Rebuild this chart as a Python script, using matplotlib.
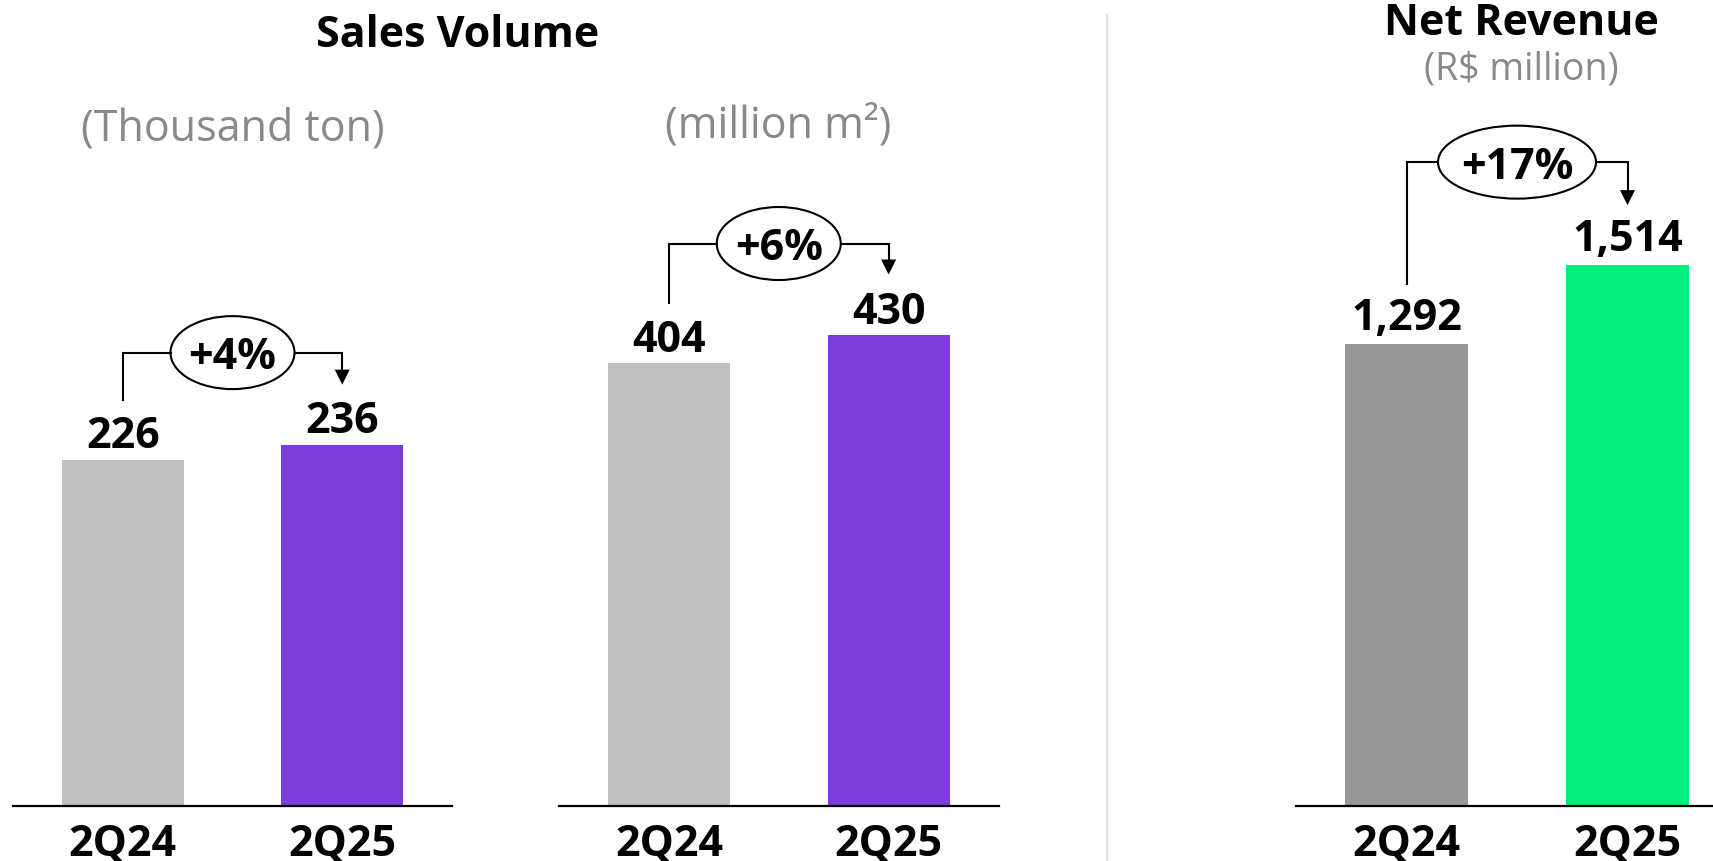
import matplotlib.pyplot as plt
from matplotlib.patches import Ellipse, Polygon
from matplotlib.lines import Line2D
from matplotlib.transforms import IdentityTransform

plt.rcParams['font.family'] = ['Open Sans', 'DejaVu Sans']

# quarterly figures
periods = ['2Q24', '2Q25']
volume_ton = [226, 236]
volume_m2 = [404, 430]
net_revenue = [1292, 1514]
growth = ['+4%', '+6%', '+17%']
units = ['(Thousand ton)', '(million m²)', '(R$ million)']

W, H = 1713, 862
BASE = 807  # baseline of the bars, pixels from the top

# layout of each panel in pixels
panels = [
    dict(values=volume_ton, colors=['#BFBFBF', '#7E3CD8'], left=13, right=452,
         ymax=527, gap=12.5, rise=92, ell_w=124),
    dict(values=volume_m2, colors=['#BFBFBF', '#7E3CD8'], left=559, right=998.5,
         ymax=736, gap=12, rise=91, ell_w=124),
    dict(values=net_revenue, colors=['#979797', '#00F080'], left=1296, right=1738,
         ymax=2259, gap=15.5, rise=103, ell_w=158),
]

fig = plt.figure(figsize=(W / 100, H / 100), dpi=100)
ident = IdentityTransform()


def px_text(x, y_top, s, **kw):
    fig.text(x, H - y_top, s, transform=ident, ha='center', va='baseline', **kw)


axes = []
for p in panels:
    ax = fig.add_axes([p['left'] / W, (H - BASE) / H, (p['right'] - p['left']) / W, BASE / H])
    ax.bar([0, 1], p['values'], width=0.555, color=p['colors'], zorder=2)
    ax.set_xlim(-0.5, 1.5)
    ax.set_ylim(0, p['ymax'])
    for side in ['top', 'left', 'right']:
        ax.spines[side].set_visible(False)
    ax.spines['bottom'].set_linewidth(1.6)
    ax.spines['bottom'].set_color('black')
    ax.set_yticks([])
    ax.set_xticks([0, 1], periods, fontsize=31, fontweight='bold')
    ax.tick_params(axis='x', length=0, pad=11.5)
    ax.patch.set_alpha(0)
    for i, v in enumerate(p['values']):
        ax.annotate(f'{v:,}', (i, v), xytext=(0, p['gap'] * 0.72), textcoords='offset points',
                    ha='center', va='baseline', fontsize=31, fontweight='bold')
    axes.append(ax)

# growth brackets between the two bars
for ax, p, g in zip(axes, panels, growth):
    x0, y0 = ax.transData.transform((0, p['values'][0]))
    x1, y1 = ax.transData.transform((1, p['values'][1]))
    start = y0 + 60
    tip = y1 + 60
    top = y1 + p['rise']
    xc = (x0 + x1) / 2
    ew = p['ell_w']
    fig.add_artist(Line2D([x0, x0, xc - ew / 2], [start, top, top], transform=ident,
                          color='black', lw=1.5, solid_joinstyle='miter'))
    fig.add_artist(Line2D([xc + ew / 2, x1, x1], [top, top, tip + 12], transform=ident,
                          color='black', lw=1.5, solid_joinstyle='miter'))
    fig.add_artist(Polygon([(x1 - 7.5, tip + 15), (x1 + 7.5, tip + 15), (x1, tip)],
                           closed=True, transform=ident, color='black', lw=0))
    fig.add_artist(Ellipse((xc, top), ew, 73, transform=ident, facecolor='white',
                           edgecolor='black', lw=1.5))
    fig.text(xc, top - 15.5, g, transform=ident, ha='center', va='baseline',
             fontsize=31, fontweight='bold')

# headings
px_text(457.5, 47, 'Sales Volume', fontsize=31, fontweight='bold')
px_text(232.5, 140.5, units[0], fontsize=31, color='#898989')
px_text(778, 138, units[1], fontsize=31, color='#898989')
px_text(1521, 35, 'Net Revenue', fontsize=31, fontweight='bold')
px_text(1521, 80, units[2], fontsize=27, color='#898989')

# divider between the two groups
fig.add_artist(Line2D([1107, 1107], [0, H - 16], transform=ident, color='#E0E0E0', lw=1.5))

fig.savefig('out.png', dpi=100)
